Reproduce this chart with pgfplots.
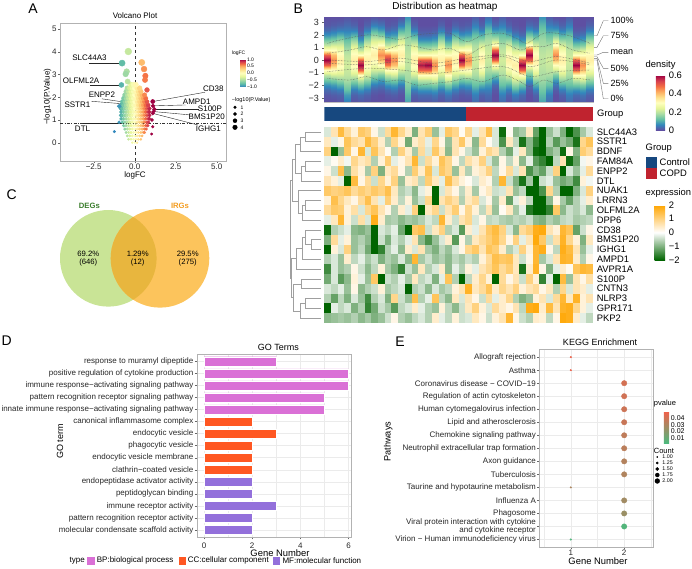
\documentclass[border=0pt]{standalone}
\usepackage{pgfplots}
\usepackage{pgfplotstable}
\pgfplotsset{compat=1.18}
\usepackage{fontspec}
\setmainfont{Liberation Sans}
\newcommand{\fs}[1]{\fontsize{#1}{#1}\selectfont}
\definecolor{bpcol}{HTML}{DA70D6}
\definecolor{cccol}{HTML}{FF5722}
\definecolor{mfcol}{HTML}{9370DB}
\definecolor{ctrlcol}{HTML}{17487F}
\definecolor{copdcol}{HTML}{C0232F}
\definecolor{vennL}{RGB}{201,228,150}
\definecolor{vennR}{RGB}{252,196,92}
\definecolor{vennO}{RGB}{232,182,62}
\definecolor{degcol}{HTML}{3A7D2C}
\definecolor{irgcol}{HTML}{F39C1F}
\definecolor{gridc}{HTML}{EBEBEB}
\pgfdeclareplotmark{hcell}{\pgfpathrectangle{\pgfqpoint{-3.45pt}{-4.95pt}}{\pgfqpoint{6.9pt}{9.9pt}}\pgfusepathqfill}
\pgfplotsset{
 colormap={fc}{rgb255(0pt)=(50,136,189) rgb255(3pt)=(102,194,165) rgb255(6pt)=(171,221,164) rgb255(9pt)=(230,245,152) rgb255(12pt)=(255,255,191) rgb255(15pt)=(254,224,139) rgb255(18pt)=(253,174,97) rgb255(20pt)=(244,109,67) rgb255(22pt)=(213,62,79) rgb255(24pt)=(158,1,66)},
 colormap={dens}{rgb255=(94,79,162) rgb255=(50,136,189) rgb255=(102,194,165) rgb255=(171,221,164) rgb255=(230,245,152) rgb255=(255,255,191) rgb255=(254,224,139) rgb255=(253,174,97) rgb255=(244,109,67) rgb255=(213,62,79) rgb255=(158,1,66)},
 colormap={expr}{rgb255=(0,100,0) rgb255=(255,255,255) rgb255=(255,165,0)},
 colormap={pv}{rgb255=(76,185,125) rgb255=(242,96,74)},
 gg/.style={scale only axis, anchor=north west, axis line style={gray!60, line width=0.5pt}, tick style={black!60, line width=0.4pt}, tick align=outside, major tick length=2pt, minor tick length=0pt, tick pos=left, /pgf/number format/assume math mode=true, ticklabel style={text=black!85}},
 cb/.style={scale only axis, anchor=north west, hide axis, colorbar, every colorbar/.append style={scale only axis, major tick length=0pt, axis line style={draw=none}, scaled y ticks=false}},
}
% density per sample column (first row: y levels)
\pgfplotstableread[header=false]{
-3.3 -2.8 -2.4 -2.0 -1.6 -1.2 -0.8 -0.4 0 0.4 0.8 1.2 1.6 2.0 2.4 2.8 3.43
0 0.01 0.03 0.07 0.13 0.20 0.30 0.50 0.60 0.50 0.30 0.20 0.13 0.07 0.03 0.01 0
0 0.015 0.04 0.08 0.14 0.22 0.30 0.40 0.45 0.40 0.30 0.22 0.14 0.08 0.04 0.015 0
0.005 0.02 0.05 0.10 0.16 0.22 0.27 0.31 0.33 0.31 0.27 0.22 0.16 0.10 0.05 0.02 0
0.05 0.08 0.12 0.15 0.18 0.20 0.21 0.22 0.21 0.20 0.18 0.15 0.12 0.08 0.05 0.03 0.005
0.005 0.02 0.05 0.10 0.16 0.22 0.27 0.31 0.33 0.31 0.27 0.22 0.16 0.10 0.05 0.02 0
0.01 0.03 0.07 0.13 0.20 0.30 0.50 0.60 0.50 0.30 0.20 0.13 0.07 0.03 0.01 0 0
0.005 0.02 0.05 0.10 0.16 0.22 0.27 0.31 0.33 0.31 0.27 0.22 0.16 0.10 0.05 0.02 0
0 0.005 0.02 0.05 0.10 0.16 0.22 0.27 0.31 0.33 0.31 0.27 0.22 0.16 0.10 0.05 0.005
0 0 0.015 0.04 0.08 0.14 0.22 0.30 0.40 0.45 0.40 0.30 0.22 0.14 0.08 0.04 0
0 0.01 0.03 0.07 0.13 0.20 0.30 0.47 0.55 0.47 0.30 0.20 0.13 0.07 0.03 0.01 0
0 0.015 0.04 0.08 0.14 0.22 0.30 0.40 0.45 0.40 0.30 0.22 0.14 0.08 0.04 0.015 0
0 0.005 0.02 0.05 0.10 0.16 0.22 0.27 0.31 0.33 0.31 0.27 0.22 0.16 0.10 0.05 0.005
0.09 0.11 0.13 0.15 0.17 0.18 0.19 0.20 0.20 0.20 0.19 0.18 0.17 0.15 0.13 0.11 0.07
0.005 0.02 0.05 0.10 0.16 0.22 0.27 0.31 0.33 0.31 0.27 0.22 0.16 0.10 0.05 0.02 0
0.01 0.03 0.07 0.13 0.20 0.30 0.50 0.58 0.50 0.30 0.20 0.13 0.07 0.03 0.01 0 0
0.01 0.03 0.07 0.13 0.20 0.30 0.50 0.60 0.50 0.30 0.20 0.13 0.07 0.03 0.01 0 0
0.015 0.04 0.08 0.14 0.22 0.30 0.40 0.45 0.40 0.30 0.22 0.14 0.08 0.04 0.015 0 0
0.005 0.02 0.05 0.10 0.16 0.22 0.27 0.31 0.33 0.31 0.27 0.22 0.16 0.10 0.05 0.02 0
0.015 0.04 0.08 0.14 0.22 0.30 0.40 0.45 0.40 0.30 0.22 0.14 0.08 0.04 0.015 0 0
0.005 0.02 0.05 0.10 0.16 0.22 0.27 0.31 0.33 0.31 0.27 0.22 0.16 0.10 0.05 0.02 0
0 0.01 0.03 0.07 0.13 0.20 0.30 0.50 0.60 0.50 0.30 0.20 0.13 0.07 0.03 0.01 0
0 0.015 0.04 0.08 0.14 0.22 0.30 0.40 0.45 0.40 0.30 0.22 0.14 0.08 0.04 0.015 0
0.03 0.05 0.08 0.12 0.15 0.18 0.20 0.21 0.22 0.21 0.20 0.18 0.15 0.12 0.08 0.05 0.015
0.005 0.02 0.05 0.10 0.16 0.22 0.27 0.31 0.33 0.31 0.27 0.22 0.16 0.10 0.05 0.02 0
0.015 0.03 0.05 0.08 0.12 0.15 0.18 0.20 0.21 0.22 0.21 0.20 0.18 0.15 0.12 0.08 0.03
0 0 0.01 0.03 0.07 0.13 0.20 0.30 0.50 0.60 0.50 0.30 0.20 0.13 0.07 0.03 0
0.03 0.05 0.08 0.12 0.15 0.18 0.20 0.21 0.22 0.21 0.20 0.18 0.15 0.12 0.08 0.05 0.015
0.005 0.02 0.05 0.10 0.16 0.22 0.27 0.31 0.33 0.31 0.27 0.22 0.16 0.10 0.05 0.02 0
0.02 0.05 0.10 0.16 0.22 0.27 0.31 0.33 0.31 0.27 0.22 0.16 0.10 0.05 0.02 0.005 0
0.01 0.03 0.07 0.13 0.20 0.30 0.50 0.60 0.50 0.30 0.20 0.13 0.07 0.03 0.01 0 0
0 0 0.01 0.03 0.07 0.13 0.20 0.30 0.50 0.60 0.50 0.30 0.20 0.13 0.07 0.03 0
0.005 0.02 0.05 0.10 0.16 0.22 0.27 0.31 0.33 0.31 0.27 0.22 0.16 0.10 0.05 0.02 0
0.09 0.11 0.13 0.15 0.17 0.18 0.19 0.20 0.20 0.20 0.19 0.18 0.17 0.15 0.13 0.11 0.07
0.03 0.05 0.08 0.12 0.15 0.18 0.20 0.21 0.22 0.21 0.20 0.18 0.15 0.12 0.08 0.05 0.015
0 0 0.015 0.04 0.08 0.14 0.22 0.30 0.40 0.45 0.40 0.30 0.22 0.14 0.08 0.04 0
0.005 0.02 0.05 0.10 0.16 0.22 0.27 0.31 0.33 0.31 0.27 0.22 0.16 0.10 0.05 0.02 0
0.03 0.05 0.08 0.12 0.15 0.18 0.20 0.21 0.22 0.21 0.20 0.18 0.15 0.12 0.08 0.05 0.015
0.01 0.03 0.07 0.13 0.20 0.30 0.50 0.60 0.50 0.30 0.20 0.13 0.07 0.03 0.01 0 0
0.015 0.04 0.08 0.14 0.22 0.30 0.40 0.45 0.40 0.30 0.22 0.14 0.08 0.04 0.015 0 0
0.005 0.02 0.05 0.10 0.16 0.22 0.27 0.31 0.33 0.31 0.27 0.22 0.16 0.10 0.05 0.02 0
}\densraw
\pgfplotstabletranspose{\dA}{\densraw}
\pgfplotstabletranspose{\dB}{\densraw}
\pgfplotstablevertcat{\dA}{\dB}
% expression heatmap: 20 genes x 40 samples
\pgfplotstableread[header=false]{
-0.3 0.6 1.5 0.8 0.3 1.2 1.0 0.2 -0.4 0.8 1.6 0.9 0.4 -1.0 0.6 1.1 -0.8 -0.2 1.2 0.9 0.1 0.9 -0.2 0.6 1.4 -0.3 -1.9 0.1 -0.9 -0.7 0.5 -1.2 -2.2 -0.8 -0.4 -1.0 -2.1 -1.4 -0.7 -0.3
0.5 -0.2 0.2 1.3 0.8 0.6 1.5 1.0 0.4 -0.6 0.9 0.3 -1.1 0.4 0.7 -0.2 0.9 0.2 -0.8 0.6 1.2 0.3 -0.9 0.8 0.1 -0.3 -1.4 0.5 -0.5 -1.8 -0.9 -1.6 -2.0 -0.6 -1.3 -0.8 -1.1 -1.8 0.9 1.3
1.0 -2.0 -0.8 1.2 0.2 1.6 -0.3 1.3 0.6 0.1 -0.6 1.0 0.4 -0.7 0.8 -0.3 1.2 0.5 -0.9 0.6 0.2 -0.4 -0.8 0.3 0.9 0.6 -0.6 -1.1 -0.2 0.5 -0.9 -1.9 -2.2 -1.0 -0.7 -1.9 0.2 -1.0 1.1 0.8
-0.2 0.1 0.4 -0.1 0.9 0.5 0.7 -0.6 0.3 1.1 -0.2 0.2 0.6 1.6 -0.4 0.8 0.3 1.3 0.9 0.2 -0.5 0.7 0.4 1.0 -0.3 -0.8 0.2 -0.5 0.3 -0.9 -0.2 -1.3 -1.6 -2.0 -0.5 0.6 -1.9 -1.2 -0.1 0.2
0.2 -0.4 1.4 -0.9 0.7 0.3 -0.7 1.0 -1.0 0.5 0.8 0.2 -0.6 1.1 0.4 1.3 -0.3 1.2 0.9 -0.8 0.5 -0.6 0.3 0.5 1.0 -0.5 0.2 0.8 -0.3 0.6 -1.4 -0.9 -1.2 -0.4 1.0 -2.1 -0.3 -0.8 -0.2 0.8
0.6 0.3 -0.2 -2.1 1.5 0.2 0.8 -0.4 0.9 0.3 1.0 -0.8 0.4 0.6 -0.5 1.1 0.5 -0.2 1.4 0.7 0.3 0.1 -0.3 0.4 0.2 -0.6 1.6 -0.4 -1.0 -1.8 -0.7 -2.1 -0.4 -0.2 -0.8 -1.1 -0.9 -1.5 0.3 -0.1
1.2 1.0 1.1 1.3 0.8 1.1 0.9 1.2 1.0 1.4 0.5 -0.6 -0.4 -0.9 -0.2 0.3 -2.1 -0.3 0.6 0.2 -0.5 0.4 -0.7 0.2 0.5 -0.4 -0.3 0.6 -0.8 -0.5 -2.2 -2.2 -1.4 0.9 -0.6 -2.2 -2.0 -1.0 -0.3 1.0
0.3 1.4 0.9 0.5 0.2 0.8 1.4 0.6 -0.2 1.1 0.4 -0.5 0.3 -0.8 -0.4 0.9 -2.1 0.6 1.0 0.7 -0.6 0.5 0.8 -0.3 0.2 -0.7 0.4 -1.2 -0.2 0.3 -0.5 -2.2 -2.1 -0.9 0.2 -0.7 -1.2 -0.6 -0.2 0.4
0.8 1.2 1.1 0.3 0.7 -0.3 0.9 1.3 0.6 0.2 -0.6 0.4 -0.2 1.0 -2.1 0.5 0.9 -0.4 0.6 1.1 0.2 0.9 0.3 -0.5 0.6 -0.8 0.1 0.5 -0.7 -0.2 -1.7 -2.2 -2.1 -1.6 1.2 -0.9 -0.4 -0.6 -0.3 -0.9
-0.2 0.5 1.6 0.3 -0.4 0.7 -0.3 1.8 0.4 -0.7 -0.6 -0.9 -0.7 -0.8 -0.6 -0.3 -0.5 1.6 0.4 -0.4 0.6 0.9 -0.3 0.2 -0.5 -0.4 -0.6 -0.7 -0.5 -0.6 -0.4 -0.9 -1.0 -0.6 -0.8 -0.5 -0.4 -0.7 -0.6 -0.5
-1.9 -0.6 -0.4 -0.2 -0.9 -1.0 -0.8 -2.0 -0.3 -0.5 -0.2 -1.1 -2.0 1.2 1.4 -0.4 0.5 1.0 -0.6 -0.3 -1.3 0.4 -0.2 0.6 1.2 1.5 1.0 -0.3 -0.9 0.8 1.1 1.8 1.9 0.6 0.3 1.6 1.3 -1.2 -0.4 0.2
-1.0 0.8 -0.2 0.3 -0.8 -0.6 -0.9 -2.1 -0.4 -1.0 -0.3 -0.6 -0.2 0.6 -0.9 -1.4 -0.8 -0.3 0.4 -1.3 0.2 -0.6 0.5 0.8 1.1 1.4 0.9 0.2 1.0 -0.2 0.6 1.9 1.2 -0.4 0.7 1.7 0.9 0.3 -1.0 0.5
-2.0 0.3 -0.3 1.0 -0.8 -0.5 -1.1 -2.2 -1.6 -0.6 -0.2 -0.9 0.4 -0.3 0.6 -0.7 -1.0 -0.5 -0.8 -0.3 0.2 0.9 1.2 0.6 1.3 1.1 0.4 -0.6 -0.3 1.0 0.3 1.6 1.8 0.2 -0.5 1.8 1.5 0.6 -0.8 -0.2
-0.6 -0.3 -0.8 0.4 -0.5 -0.2 -0.7 -0.4 -1.0 -0.6 -0.8 -0.3 -0.9 1.6 -0.7 -0.4 -0.8 -0.6 -0.9 -0.5 -0.7 -0.4 -0.6 0.3 0.8 1.4 1.2 1.3 0.5 -0.4 0.2 1.6 -0.7 -0.3 0.6 1.7 1.6 0.4 -0.6 0.2
-1.5 -0.3 -0.8 -0.6 0.2 -0.4 -0.9 -0.5 0.3 -0.7 -1.0 -1.6 -0.4 -0.8 0.5 -0.6 -0.3 0.4 -0.9 -0.2 -0.6 0.3 -0.2 0.6 0.9 1.3 0.8 1.1 0.5 -1.8 0.4 1.7 0.2 -1.0 -0.2 0.4 0.1 1.3 1.6 1.5
-1.1 -0.3 -1.3 -0.9 0.3 -0.2 -0.8 1.2 -2.2 -0.4 -0.6 -0.2 -0.7 0.5 -0.5 -0.3 -1.0 -0.2 1.3 -0.6 -2.0 -0.5 0.4 0.9 0.3 -2.1 0.8 0.2 0.6 -0.4 1.0 0.3 -1.6 -0.2 -2.0 1.5 -0.8 0.6 0.2 0.7
-0.3 -0.5 -0.2 -0.8 0.2 -0.9 -0.6 -0.4 0.3 -0.7 -0.5 -0.3 -2.0 -0.6 -0.4 -0.9 -0.3 -0.7 -0.5 0.3 0.6 1.7 0.5 0.8 1.3 0.4 0.9 0.6 1.0 0.3 0.6 0.8 0.2 0.5 -0.6 0.9 -0.3 0.6 0.4 -0.2
-0.6 -1.2 -0.5 -1.0 -0.3 -0.8 -1.5 -0.6 -0.3 -1.0 0.9 -0.4 -0.8 1.4 -0.6 -0.2 1.3 -0.5 -0.9 0.5 -0.3 0.6 0.2 -0.4 0.8 -0.2 0.4 0.9 -0.6 -1.0 -0.8 0.3 0.6 -0.3 0.8 1.6 0.5 1.7 0.3 0.6
-2.0 -0.2 -0.5 -0.3 -1.0 -0.6 -1.6 -1.1 -0.4 -0.7 -1.3 -0.5 -0.3 0.4 -0.2 -0.6 -0.8 0.3 -0.5 -0.9 -0.4 0.5 1.0 0.3 -0.3 0.8 0.4 0.2 0.6 -0.5 1.8 1.9 0.4 1.5 0.6 1.7 1.8 0.9 0.3 -0.2
-0.9 -0.8 -0.7 -0.8 -0.6 -0.9 -0.7 -1.0 -0.8 -0.4 0.2 -0.6 -0.8 -0.5 -0.3 -0.6 0.4 -0.2 -0.5 0.3 -0.4 -0.3 0.5 0.2 -0.4 0.3 0.6 1.6 0.2 -0.4 -0.6 0.4 0.3 -0.5 0.2 1.9 1.8 0.4 -0.2 -0.5
}\exprtab
\begin{document}
\begin{tikzpicture}
\useasboundingbox (0pt,0pt) rectangle (692pt,-568pt);
%================ overlay (pixel coordinates) =================
\begin{axis}[at={(0pt,0pt)}, anchor=north west, scale only axis, width=692pt, height=568pt, xmin=0, xmax=692, ymin=0, ymax=568, y dir=reverse, hide axis, clip=false]
% panel letters
\node[font=\fs{14}, inner sep=0pt] at (axis cs:33,9) {A};
\node[font=\fs{14}, inner sep=0pt] at (axis cs:298.3,9) {B};
\node[font=\fs{14}, inner sep=0pt] at (axis cs:11.7,195) {C};
\node[font=\fs{14}, inner sep=0pt] at (axis cs:6.7,341) {D};
\node[font=\fs{14}, inner sep=0pt] at (axis cs:400,341.7) {E};
% A texts
\node[font=\fs{8}, inner sep=0pt] at (axis cs:135,16) {Volcano Plot};
\node[font=\fs{8}, inner sep=0pt] at (axis cs:135,175) {logFC};
\node[font=\fs{8}, inner sep=0pt, rotate=90] at (axis cs:47.5,96.7) {−log10(P.Value)};
\node[font=\fs{5}, inner sep=0pt, anchor=west] at (axis cs:231.7,53.3) {logFC};
\node[font=\fs{5.5}, inner sep=0pt, anchor=west] at (axis cs:231.7,100) {−log10(P.Value)};
\addplot[only marks, mark=*, black, mark size=1.3pt] coordinates {(235,107.3)};
\addplot[only marks, mark=*, black, mark size=1.7pt] coordinates {(235,114)};
\addplot[only marks, mark=*, black, mark size=2.0pt] coordinates {(235,120.7)};
\addplot[only marks, mark=*, black, mark size=2.3pt] coordinates {(235,127.3)};
\node[font=\fs{5}, inner sep=0pt, anchor=west] at (axis cs:240.5,107.3) {1};
\node[font=\fs{5}, inner sep=0pt, anchor=west] at (axis cs:240.5,114) {2};
\node[font=\fs{5}, inner sep=0pt, anchor=west] at (axis cs:240.5,120.7) {3};
\node[font=\fs{5}, inner sep=0pt, anchor=west] at (axis cs:240.5,127.3) {4};
% B texts
\node[font=\fs{10}, inner sep=0pt] at (axis cs:445,6.7) {Distribution as heatmap};
\draw[black!55, line width=0.4pt] (axis cs:594,35.7) -- (axis cs:597,35.7) -- (axis cs:603.3,20.7) -- (axis cs:608.3,20.7);
\draw[black!55, line width=0.4pt] (axis cs:594,47.3) -- (axis cs:597,47.3) -- (axis cs:603.3,35.7) -- (axis cs:608.3,35.7);
\draw[black!55, line width=0.4pt] (axis cs:594,55) -- (axis cs:597,55) -- (axis cs:603.3,52.3) -- (axis cs:608.3,52.3);
\draw[black!55, line width=0.4pt] (axis cs:594,56.7) -- (axis cs:597,56.7) -- (axis cs:603.3,68.3) -- (axis cs:608.3,68.3);
\draw[black!55, line width=0.4pt] (axis cs:594,58.3) -- (axis cs:597,58.3) -- (axis cs:603.3,83.3) -- (axis cs:608.3,83.3);
\draw[black!55, line width=0.4pt] (axis cs:594,60) -- (axis cs:597,60) -- (axis cs:603.3,98.7) -- (axis cs:608.3,98.7);
\node[font=\fs{9}, inner sep=0pt, anchor=west] at (axis cs:610.5,20.7) {100\%};
\node[font=\fs{9}, inner sep=0pt, anchor=west] at (axis cs:610.5,35.7) {75\%};
\node[font=\fs{9}, inner sep=0pt, anchor=west] at (axis cs:610.5,52.3) {mean};
\node[font=\fs{9}, inner sep=0pt, anchor=west] at (axis cs:610.5,68.3) {50\%};
\node[font=\fs{9}, inner sep=0pt, anchor=west] at (axis cs:610.5,83.3) {25\%};
\node[font=\fs{9}, inner sep=0pt, anchor=west] at (axis cs:610.5,98.7) {0\%};
\node[font=\fs{9.4}, inner sep=0pt, anchor=west] at (axis cs:597,114) {Group};
\node[font=\fs{9.4}, inner sep=0pt, anchor=west] at (axis cs:645.5,65.5) {density};
\node[font=\fs{9.4}, inner sep=0pt, anchor=west] at (axis cs:645.5,148) {Group};
\addplot[only marks, mark=square*, mark size=5.3pt, ctrlcol] coordinates {(651.3,162)};
\addplot[only marks, mark=square*, mark size=5.3pt, copdcol] coordinates {(651.3,173.3)};
\node[font=\fs{9.4}, inner sep=0pt, anchor=west] at (axis cs:659.5,162) {Control};
\node[font=\fs{9.4}, inner sep=0pt, anchor=west] at (axis cs:659.5,173.3) {COPD};
\node[font=\fs{9.4}, inner sep=0pt, anchor=west] at (axis cs:645.5,193.3) {expression};
% C Venn
\fill[vennL] (axis cs:108.3,258.3) circle [radius=48.3pt];
\fill[vennR] (axis cs:160,258.3) circle [radius=49.3pt];
\begin{scope}
\clip (axis cs:108.3,258.3) circle [radius=48.3pt];
\fill[vennO] (axis cs:160,258.3) circle [radius=49.3pt];
\end{scope}
\node[font=\fs{7.7}\bfseries, text=degcol, inner sep=0pt] at (axis cs:89.3,206) {DEGs};
\node[font=\fs{7.7}\bfseries, text=irgcol, inner sep=0pt] at (axis cs:180,206) {IRGs};
\node[font=\fs{7.7}, inner sep=0pt] at (axis cs:88.3,254.3) {69.2\%};
\node[font=\fs{7.7}, inner sep=0pt] at (axis cs:88.3,262.7) {(646)};
\node[font=\fs{7.7}, inner sep=0pt] at (axis cs:137.7,254.3) {1.29\%};
\node[font=\fs{7.7}, inner sep=0pt] at (axis cs:137.7,262.7) {(12)};
\node[font=\fs{7.7}, inner sep=0pt] at (axis cs:187.7,254.3) {29.5\%};
\node[font=\fs{7.7}, inner sep=0pt] at (axis cs:187.7,262.7) {(275)};
% D texts
\node[font=\fs{9}, inner sep=0pt] at (axis cs:278.3,347.3) {GO Terms};
\node[font=\fs{9.4}, inner sep=0pt] at (axis cs:280,552.7) {Gene Number};
\node[font=\fs{9}, inner sep=0pt, rotate=90] at (axis cs:60,441.7) {GO term};
\node[font=\fs{8}, inner sep=0pt] at (axis cs:77.3,560.5) {type};
\addplot[only marks, mark=square*, mark size=3.3pt, bpcol] coordinates {(90.7,560.5)};
\addplot[only marks, mark=square*, mark size=3.3pt, cccol] coordinates {(182.3,560.5)};
\addplot[only marks, mark=square*, mark size=3.3pt, mfcol] coordinates {(276,560.5)};
\node[font=\fs{8}, inner sep=0pt, anchor=west] at (axis cs:96.7,560.5) {BP:biological process};
\node[font=\fs{8}, inner sep=0pt, anchor=west] at (axis cs:187.7,560.5) {CC:cellular component};
\node[font=\fs{8}, inner sep=0pt, anchor=west] at (axis cs:282.3,560.5) {MF:molecular function};
% E texts
\node[font=\fs{9}, inner sep=0pt] at (axis cs:600,342.7) {KEGG Enrichment};
\node[font=\fs{9.4}, inner sep=0pt] at (axis cs:598,561.5) {Gene Number};
\node[font=\fs{9.2}, inner sep=0pt, rotate=90] at (axis cs:388.3,441.7) {Pathways};
\node[font=\fs{7.5}, inner sep=0pt, anchor=west] at (axis cs:653.7,404) {pvalue};
\node[font=\fs{7.5}, inner sep=0pt, anchor=west] at (axis cs:653.7,451) {Count};
\addplot[only marks, mark=*, black, mark size=0.6pt] coordinates {(657.3,457)};
\addplot[only marks, mark=*, black, mark size=1.1pt] coordinates {(657.3,463)};
\addplot[only marks, mark=*, black, mark size=1.6pt] coordinates {(657.3,469)};
\addplot[only marks, mark=*, black, mark size=2.0pt] coordinates {(657.3,475)};
\addplot[only marks, mark=*, black, mark size=2.4pt] coordinates {(657.3,481)};
\node[font=\fs{5.3}, inner sep=0pt, anchor=west] at (axis cs:662.2,457) {1.00};
\node[font=\fs{5.3}, inner sep=0pt, anchor=west] at (axis cs:662.2,463) {1.25};
\node[font=\fs{5.3}, inner sep=0pt, anchor=west] at (axis cs:662.2,469) {1.50};
\node[font=\fs{5.3}, inner sep=0pt, anchor=west] at (axis cs:662.2,475) {1.75};
\node[font=\fs{5.3}, inner sep=0pt, anchor=west] at (axis cs:662.2,481) {2.00};
\end{axis}
%================ A: volcano =================
\begin{axis}[gg, at={(60pt,-23pt)}, width=166pt, height=138pt,
 xmin=-4.555, xmax=5.567, ymin=-0.805, ymax=5.264,
 xtick={-2.5,0,2.5,5}, xticklabels={−2.5,0.0,2.5,5.0}, ytick={0,...,5},
 ticklabel style={font=\fs{8}, inner sep=1.2pt}, colormap name=fc, point meta min=-1, point meta max=1, clip=false]
\draw[black!80, dashed, line width=0.4pt] (axis cs:0,-0.805) -- (axis cs:0,5.264);
\draw[black!80, dash pattern=on 3pt off 1.5pt on 0.8pt off 1.5pt, line width=0.4pt] (axis cs:-4.555,0.85) -- (axis cs:5.567,0.85);
\addplot[scatter, only marks, mark=*, point meta=x, scatter/use mapped color={draw=mapped color, fill=mapped color},
 visualization depends on={y \as \yy}, scatter/@pre marker code/.append style={/tikz/mark size=1+0.6*\yy}] coordinates {
(-0.15,0)(0,0)(0.15,0)
(-0.375,0.15)(-0.225,0.15)(-0.075,0.15)(0.075,0.15)(0.225,0.15)(0.375,0.15)
(-0.45,0.3)(-0.3,0.3)(-0.15,0.3)(0,0.3)(0.15,0.3)(0.3,0.3)(0.45,0.3)
(-0.525,0.45)(-0.375,0.45)(-0.225,0.45)(-0.075,0.45)(0.075,0.45)(0.225,0.45)(0.375,0.45)(0.525,0.45)(0.6,0.45)
(-0.6,0.6)(-0.45,0.6)(-0.3,0.6)(-0.15,0.6)(0,0.6)(0.15,0.6)(0.3,0.6)(0.45,0.6)(0.6,0.6)(0.7,0.6)
(-0.675,0.75)(-0.525,0.75)(-0.375,0.75)(-0.225,0.75)(-0.075,0.75)(0.075,0.75)(0.225,0.75)(0.375,0.75)(0.525,0.75)(0.675,0.75)(0.8,0.75)
(-0.75,0.9)(-0.6,0.9)(-0.45,0.9)(-0.3,0.9)(-0.15,0.9)(0,0.9)(0.15,0.9)(0.3,0.9)(0.45,0.9)(0.6,0.9)(0.75,0.9)(0.85,0.9)
(-0.825,1.05)(-0.675,1.05)(-0.525,1.05)(-0.375,1.05)(-0.225,1.05)(-0.075,1.05)(0.075,1.05)(0.225,1.05)(0.375,1.05)(0.525,1.05)(0.675,1.05)(0.825,1.05)(0.9,1.05)
(-0.85,1.2)(-0.75,1.2)(-0.6,1.2)(-0.45,1.2)(-0.3,1.2)(-0.15,1.2)(0,1.2)(0.15,1.2)(0.3,1.2)(0.45,1.2)(0.6,1.2)(0.75,1.2)(0.9,1.2)
(-0.825,1.35)(-0.675,1.35)(-0.525,1.35)(-0.375,1.35)(-0.225,1.35)(-0.075,1.35)(0.075,1.35)(0.225,1.35)(0.375,1.35)(0.525,1.35)(0.675,1.35)(0.825,1.35)(0.9,1.35)
(-0.85,1.5)(-0.75,1.5)(-0.6,1.5)(-0.45,1.5)(-0.3,1.5)(-0.15,1.5)(0,1.5)(0.15,1.5)(0.3,1.5)(0.45,1.5)(0.6,1.5)(0.75,1.5)(0.9,1.5)
(-0.825,1.65)(-0.675,1.65)(-0.525,1.65)(-0.375,1.65)(-0.225,1.65)(-0.075,1.65)(0.075,1.65)(0.225,1.65)(0.375,1.65)(0.525,1.65)(0.675,1.65)(0.825,1.65)
(-0.75,1.8)(-0.6,1.8)(-0.45,1.8)(-0.3,1.8)(-0.15,1.8)(0,1.8)(0.15,1.8)(0.3,1.8)(0.45,1.8)(0.6,1.8)(0.75,1.8)
(-0.675,1.95)(-0.525,1.95)(-0.375,1.95)(-0.225,1.95)(-0.075,1.95)(0.075,1.95)(0.225,1.95)(0.375,1.95)(0.525,1.95)(0.675,1.95)
(-0.6,2.1)(-0.45,2.1)(-0.3,2.1)(-0.15,2.1)(0,2.1)(0.15,2.1)(0.3,2.1)(0.45,2.1)(0.6,2.1)
(-0.525,2.25)(-0.375,2.25)(-0.225,2.25)(-0.075,2.25)(0.075,2.25)(0.225,2.25)(0.375,2.25)
(-0.45,2.4)(-0.3,2.4)(-0.15,2.4)(0,2.4)(0.15,2.4)(0.3,2.4)
(-0.225,2.55)(-0.075,2.55)(0.075,2.55)
(-0.39,4.01)(-0.77,3.5)(-0.49,3.13)(-0.55,3.02)(-0.43,2.69)(-0.81,2.54)
(0.43,3.53)(0.57,3.24)(0.65,2.94)(0.63,2.76)(0.75,2.32)
(1.1,1.81)(1.12,1.62)(1.2,1.47)(1.15,1.37)(1.1,1.29)(1.05,1.0)(1.1,0.7)(1.03,0.38)
(-1.24,0.49)(-0.95,1.6)(-0.95,0.9)
};
\draw[black!85, line width=0.4pt] (axis cs:-2.76,3.5) -- (axis cs:-0.77,3.5);
\node[font=\fs{8}, inner sep=0pt] at (axis cs:-2.76,3.74) {SLC44A3};
\draw[black!85, line width=0.4pt] (axis cs:-2.72,2.54) -- (axis cs:-0.81,2.54);
\node[font=\fs{8}, inner sep=0pt] at (axis cs:-3.27,2.74) {OLFML2A};
\draw[black!85, line width=0.4pt] (axis cs:-2.0,1.93) -- (axis cs:-0.69,1.79);
\node[font=\fs{8}, inner sep=0pt] at (axis cs:-2.0,2.13) {ENPP2};
\draw[black!85, line width=0.4pt] (axis cs:-2.62,1.82) -- (axis cs:-0.69,1.71);
\node[font=\fs{8}, inner sep=0pt] at (axis cs:-3.49,1.65) {SSTR1};
\draw[black!85, line width=0.4pt] (axis cs:-3.18,0.85) -- (axis cs:-0.69,0.85);
\node[font=\fs{8}, inner sep=0pt] at (axis cs:-3.18,0.63) {DTL};
\draw[black!85, line width=0.4pt] (axis cs:4.29,2.22) -- (axis cs:1.1,1.81);
\node[font=\fs{8}, inner sep=0pt] at (axis cs:4.79,2.37) {CD38};
\draw[black!85, line width=0.4pt] (axis cs:3.1,1.66) -- (axis cs:1.12,1.62);
\node[font=\fs{8}, inner sep=0pt] at (axis cs:3.78,1.8) {AMPD1};
\draw[black!85, line width=0.4pt] (axis cs:3.9,1.47) -- (axis cs:1.2,1.47);
\node[font=\fs{8}, inner sep=0pt] at (axis cs:4.59,1.49) {S100P};
\draw[black!85, line width=0.4pt] (axis cs:3.4,1.22) -- (axis cs:1.15,1.37);
\node[font=\fs{8}, inner sep=0pt] at (axis cs:4.39,1.12) {BMS1P20};
\draw[black!85, line width=0.4pt] (axis cs:3.85,0.78) -- (axis cs:1.1,1.29);
\node[font=\fs{8}, inner sep=0pt] at (axis cs:4.49,0.63) {IGHG1};
\end{axis}
% logFC colorbar
\begin{axis}[cb, at={(231.7pt,-59.3pt)}, width=5.6pt, height=27.4pt, colormap name=fc, point meta min=-1, point meta max=1,
 colorbar style={at={(parent axis.north west)}, anchor=north west, width=5.6pt, height=27.4pt, ytick={-1,-0.5,0,0.5,1}, yticklabels={−1.0,−0.5,0.0,0.5,1.0}, yticklabel style={font=\fs{5}, inner sep=1pt}}]
\addplot[draw=none] coordinates {(0,0)};
\end{axis}
%================ B: density heatmap =================
\begin{axis}[gg, at={(324.3pt,-17.3pt)}, width=269pt, height=84.4pt, xmin=0, xmax=40, ymin=-3.3, ymax=3.43,
 colormap name=dens, point meta min=0, point meta max=0.6, xtick=\empty, ytick={-3,...,3}, yticklabels={−3,−2,−1,0,1,2,3},
 ticklabel style={font=\fs{9}}, axis line style={gray!50, line width=0.4pt}]
\pgfplotsinvokeforeach{2,...,41}{
 \addplot[surf, shader=interp, mesh/rows=17, mesh/cols=2, mesh/ordering=y varies, point meta=explicit]
  table[x expr={#1-2-0.04+1.08*(\coordindex>16)}, y index=1, meta index=#1]{\dA};
}
\addplot[smooth, densely dotted, black!65, line width=0.5pt, mark=none] coordinates {(0.5,1.35)(2.3,1.62)(6.3,2.02)(8.8,1.88)(11.3,1.67)(13.7,2.02)(16.2,2.15)(18.7,2.15)(21.2,1.48)(23.6,2.02)(26.6,2.15)(29.1,1.62)(30.1,1.35)(32.6,2.15)(34.6,2.15)(37,1.88)(39.5,1.35)};
\addplot[smooth, densely dotted, black!65, line width=0.5pt, mark=none] coordinates {(0.5,0.56)(3.8,0.82)(6.3,1.09)(8.8,0.82)(11.3,1.22)(13.7,1.09)(16.2,0.82)(18.7,0.95)(21.2,0.42)(23.6,1.09)(26.6,1.35)(29.1,0.82)(30.6,1.09)(32.6,1.09)(34.6,1.35)(37,0.82)(39.5,0.56)};
\addplot[smooth, densely dotted, black!65, line width=0.5pt, mark=none] coordinates {(0.5,0.03)(6.3,-0.1)(11.3,0.17)(16.2,-0.23)(21.2,0.17)(26.6,0.43)(30.6,-0.1)(34.6,0.3)(39.5,-0.23)};
\addplot[smooth, densely dotted, black!65, line width=0.5pt, mark=none] coordinates {(0.5,-0.23)(6.3,-0.36)(11.3,-0.1)(16.2,-0.5)(21.2,-0.1)(26.6,0.3)(30.6,-0.5)(34.6,0.03)(39.5,-0.36)};
\addplot[smooth, densely dotted, black!65, line width=0.5pt, mark=none] coordinates {(0.5,-0.9)(6.3,-0.63)(11.3,-0.77)(16.2,-1.04)(21.2,-0.77)(26.6,-0.5)(30.6,-1.3)(34.6,-0.9)(39.5,-0.77)};
\addplot[smooth, densely dotted, black!65, line width=0.5pt, mark=none] coordinates {(0.5,-1.44)(3.8,-1.57)(6.3,-1.3)(8.8,-1.7)(11.3,-1.57)(13.7,-1.97)(16.2,-1.84)(18.7,-1.7)(21.2,-1.44)(23.6,-1.7)(26.6,-1.17)(29.1,-1.7)(30.6,-2.1)(32.6,-1.57)(34.6,-1.84)(37,-1.44)(39.5,-1.57)};
\end{axis}
% group bar
\begin{axis}[scale only axis, anchor=north west, at={(324.3pt,-107.3pt)}, width=269pt, height=13.4pt, xmin=0, xmax=40, ymin=0, ymax=1, hide axis]
\addplot[fill=ctrlcol, draw=none] coordinates {(0,1)(21,1)} \closedcycle;
\addplot[fill=copdcol, draw=none] coordinates {(21,1)(40,1)} \closedcycle;
\end{axis}
% expression heatmap
\begin{axis}[scale only axis, anchor=north west, at={(324.3pt,-127pt)}, width=269pt, height=196pt,
 xmin=-0.5, xmax=39.5, ymin=-0.5, ymax=19.5, y dir=reverse, colormap name=expr, point meta min=-2, point meta max=2,
 xtick=\empty, ytick={0,...,19}, yticklabel pos=right, major tick length=0pt, axis line style={draw=none}, clip=false,
 yticklabels={SLC44A3,SSTR1,BDNF,FAM84A,ENPP2,DTL,NUAK1,LRRN3,OLFML2A,DPP6,CD38,BMS1P20,IGHG1,AMPD1,AVPR1A,S100P,CNTN3,NLRP3,GPR171,PKP2},
 yticklabel style={font=\fs{9.4}, text=black}]
\pgfplotsinvokeforeach{0,...,39}{
 \addplot[scatter, only marks, mark=hcell, point meta=explicit, scatter/use mapped color={draw=none, fill=mapped color}]
  table[x expr=#1, y expr=\coordindex, meta index=#1]{\exprtab};
}
\addplot[gray!75, line width=0.5pt, mark=none] coordinates {(-0.99,0)(-3.37,0)(-3.37,1)(-0.99,1)};
\addplot[gray!75, line width=0.5pt, mark=none] coordinates {(-3.37,0.5)(-4.11,0.5)(-4.11,2)(-0.99,2)};
\addplot[gray!75, line width=0.5pt, mark=none] coordinates {(-0.99,3)(-3.37,3)(-3.37,4)(-0.99,4)};
\addplot[gray!75, line width=0.5pt, mark=none] coordinates {(-3.37,3.5)(-3.86,3.5)(-3.86,5)(-0.99,5)};
\addplot[gray!75, line width=0.5pt, mark=none] coordinates {(-4.11,1.25)(-4.86,1.25)(-4.86,4.25)(-3.86,4.25)};
\addplot[gray!75, line width=0.5pt, mark=none] coordinates {(-0.99,7)(-3.37,7)(-3.37,8)(-0.99,8)};
\addplot[gray!75, line width=0.5pt, mark=none] coordinates {(-3.37,7.5)(-3.71,7.5)(-3.71,9)(-0.99,9)};
\addplot[gray!75, line width=0.5pt, mark=none] coordinates {(-0.99,6)(-4.37,6)(-4.37,8.25)(-3.71,8.25)};
\addplot[gray!75, line width=0.5pt, mark=none] coordinates {(-4.86,2.75)(-5.2,2.75)(-5.2,7.125)(-4.37,7.125)};
\addplot[gray!75, line width=0.5pt, mark=none] coordinates {(-0.99,11)(-2.37,11)(-2.37,12)(-0.99,12)};
\addplot[gray!75, line width=0.5pt, mark=none] coordinates {(-0.99,10)(-3.37,10)(-3.37,11.5)(-2.37,11.5)};
\addplot[gray!75, line width=0.5pt, mark=none] coordinates {(-3.37,10.75)(-3.71,10.75)(-3.71,13)(-0.99,13)};
\addplot[gray!75, line width=0.5pt, mark=none] coordinates {(-3.71,11.875)(-4.6,11.875)(-4.6,14)(-0.99,14)};
\addplot[gray!75, line width=0.5pt, mark=none] coordinates {(-0.99,17)(-3.37,17)(-3.37,18)(-0.99,18)};
\addplot[gray!75, line width=0.5pt, mark=none] coordinates {(-3.37,17.5)(-4.11,17.5)(-4.11,19)(-0.99,19)};
\addplot[gray!75, line width=0.5pt, mark=none] coordinates {(-0.99,15)(-3.86,15)(-3.86,16)(-0.99,16)};
\addplot[gray!75, line width=0.5pt, mark=none] coordinates {(-3.86,15.5)(-5.11,15.5)(-5.11,18.25)(-4.11,18.25)};
\addplot[gray!75, line width=0.5pt, mark=none] coordinates {(-4.6,12.94)(-5.35,12.94)(-5.35,16.875)(-5.11,16.875)};
\addplot[gray!75, line width=0.5pt, mark=none] coordinates {(-5.2,4.94)(-5.6,4.94)(-5.6,14.9)(-5.35,14.9)};
\end{axis}
% density colorbar
\begin{axis}[cb, at={(647.3pt,-75.3pt)}, width=9.4pt, height=54.7pt, colormap name=dens, point meta min=0, point meta max=0.6,
 colorbar style={at={(parent axis.north west)}, anchor=north west, width=9.4pt, height=54.7pt, ytick={0,0.2,0.4,0.6}, yticklabels={0,0.2,0.4,0.6}, yticklabel style={font=\fs{9.4}}}]
\addplot[draw=none] coordinates {(0,0)};
\end{axis}
% expression colorbar
\begin{axis}[cb, at={(646pt,-205pt)}, width=10.7pt, height=55pt, colormap name=expr, point meta min=-2, point meta max=2,
 colorbar style={at={(parent axis.north west)}, anchor=north west, width=10.7pt, height=55pt, ytick={-2,-1,0,1,2}, yticklabels={−2,−1,0,1,2}, yticklabel style={font=\fs{9.4}}}]
\addplot[draw=none] coordinates {(0,0)};
\end{axis}
%================ D: GO bars =================
\begin{axis}[gg, at={(196.8pt,-354pt)}, width=154.2pt, height=183.3pt,
 xmin=-0.3, xmax=6.1, ymin=0.4, ymax=15.6, y dir=reverse,
 xtick={0,2,4,6}, minor xtick={1,3,5}, ytick={1,...,15},
 grid=both, major grid style={gridc, line width=0.5pt}, minor grid style={gridc, line width=0.3pt},
 xticklabel style={font=\fs{8}}, yticklabel style={font=\fs{8}, inner sep=1.2pt},
 yticklabels={response to muramyl dipeptide, positive regulation of cytokine production, immune response−activating signaling pathway, pattern recognition receptor signaling pathway, innate immune response−activating signaling pathway, canonical inflammasome complex, endocytic vesicle, phagocytic vesicle, endocytic vesicle membrane, clathrin−coated vesicle, endopeptidase activator activity, peptidoglycan binding, immune receptor activity, pattern recognition receptor activity, molecular condensate scaffold activity}]
\addplot[xbar, bar width=0.75, bar shift=0pt, fill=bpcol, draw=white, line width=0.3pt] coordinates {(3,1)(6,2)(6,3)(5,4)(5,5)};
\addplot[xbar, bar width=0.75, bar shift=0pt, fill=cccol, draw=white, line width=0.3pt] coordinates {(2,6)(3,7)(2,8)(2,9)(2,10)};
\addplot[xbar, bar width=0.75, bar shift=0pt, fill=mfcol, draw=white, line width=0.3pt] coordinates {(2,11)(2,12)(3,13)(2,14)(2,15)};
\end{axis}
%================ E: KEGG dots =================
\begin{axis}[gg, at={(539.3pt,-349.3pt)}, width=113.7pt, height=198pt,
 xmin=0.41, xmax=2.54, ymin=0.4, ymax=15.6, y dir=reverse,
 xtick={1,2}, minor xtick={0.5,1.5,2.5}, ytick={1,...,15},
 grid=both, major grid style={gridc, line width=0.5pt}, minor grid style={gridc, line width=0.3pt},
 xticklabel style={font=\fs{8}, inner sep=0.6pt}, yticklabel style={font=\fontsize{8}{6.7}\selectfont, align=right, inner sep=1.2pt},
 colormap name=pv, point meta min=0.003, point meta max=0.05,
 yticklabels={Allograft rejection, Asthma, Coronavirus disease − COVID−19, Regulation of actin cytoskeleton, Human cytomegalovirus infection, Lipid and atherosclerosis, Chemokine signaling pathway, Neutrophil extracellular trap formation, Axon guidance, Tuberculosis, Taurine and hypotaurine metabolism, Influenza A, Phagosome, {Viral protein interaction with cytokine\\and cytokine receptor}, Virion − Human immunodeficiency virus}]
\addplot[scatter, only marks, mark=*, mark size=0.8pt, point meta=explicit, scatter/use mapped color={draw=mapped color, fill=mapped color}] coordinates {(1,1) [0.048] (1,2) [0.048] (1,11) [0.03] (1,15) [0.004]};
\addplot[scatter, only marks, mark=*, mark size=2.7pt, point meta=explicit, scatter/use mapped color={draw=mapped color, fill=mapped color}] coordinates {(2,3) [0.041] (2,4) [0.040] (2,5) [0.039] (2,6) [0.038] (2,7) [0.035] (2,8) [0.034] (2,9) [0.032] (2,10) [0.031] (2,12) [0.027] (2,13) [0.025] (2,14) [0.005]};
\end{axis}
% pvalue colorbar
\begin{axis}[cb, at={(655.3pt,-411.3pt)}, width=5.4pt, height=31.7pt, colormap name=pv, point meta min=0.003, point meta max=0.05,
 colorbar style={at={(parent axis.north west)}, anchor=north west, width=5.4pt, height=31.7pt, ytick={0.01,0.02,0.03,0.04}, yticklabels={0.01,0.02,0.03,0.04}, yticklabel style={font=\fs{7}, inner sep=1.5pt}}]
\addplot[draw=none] coordinates {(0,0)};
\end{axis}
\end{tikzpicture}
\end{document}
